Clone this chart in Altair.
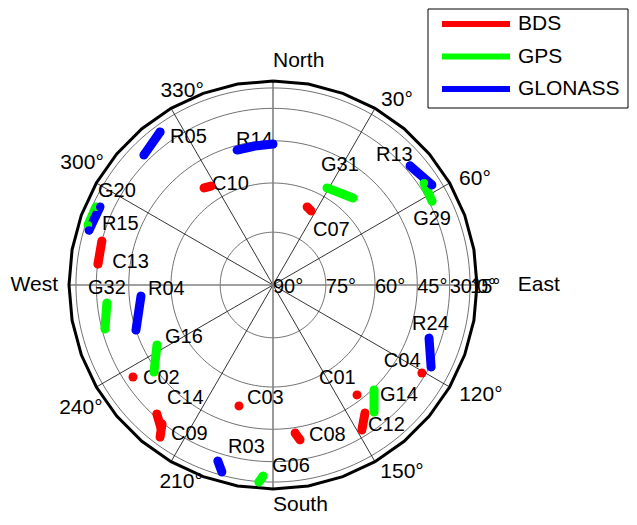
import altair as alt
import numpy as np
import pandas as pd

# ---------------- data ----------------
systems = ["BDS", "GPS", "GLONASS"]
system_colors = ["#ff0000", "#00ff00", "#0000ff"]

sat_names = ["C01", "C02", "C03", "C04", "C07", "C08", "C09", "C10", "C12", "C13", "C14",
             "G06", "G14", "G16", "G20", "G29", "G31", "G32",
             "R03", "R04", "R05", "R13", "R14", "R15", "R24"]
sat_systems = ["BDS"] * 11 + ["GPS"] * 7 + ["GLONASS"] * 7

# azimuth / elevation (deg) of the track points of every satellite
track_az = [[142.6], [236.7], [195.7], [120.6], [23.6, 27.2], [171.5, 170.1], [218.6, 216.6],
            [324.6, 327.9], [144.3, 148.5], [284.4, 276.8], [222.0, 218.1],
            [183.0, 184.1], [136.1, 141.5], [242.7, 233.8], [293.8, 288.0], [56.0, 62.2],
            [29.1, 42.6], [263.8, 255.3],
            [197.4, 195.3], [265.2, 251.8], [323.6, 315.2], [49.0, 57.8], [345.1, 352.6, 360.0],
            [294.3, 286.6], [108.8, 117.4]]
track_el = [[47.3], [34.8], [52.0], [32.0], [65.3, 65.9], [42.8, 39.6], [29.3, 21.8],
            [54.3, 55.1], [39.4, 33.5], [30.0, 30.2], [31.7, 27.1],
            [20.3, 14.5], [44.4, 37.3], [50.2, 43.7], [18.5, 17.6], [26.7, 28.2],
            [57.0, 54.6], [35.0, 31.6],
            [25.3, 18.2], [49.5, 45.0], [21.2, 26.1], [27.1, 23.0], [46.8, 46.6, 46.3],
            [21.5, 19.8], [36.1, 29.2]]

# where each satellite name is written (azimuth / elevation, deg)
label_az = [153.7, 234.4, 193.0, 124.4, 36.0, 166.5, 214.4, 328.9, 145.8, 278.1, 223.2,
            180.3, 135.8, 244.3, 298.2, 64.8, 21.8, 269.1,
            195.5, 268.2, 325.2, 38.4, 345.7, 289.6, 105.7]
label_el = [59.4, 38.4, 55.4, 48.8, 70.5, 40.9, 27.7, 54.7, 34.0, 37.2, 40.6,
            27.5, 41.2, 54.0, 13.2, 40.6, 50.7, 24.9,
            34.5, 52.2, 27.9, 35.6, 42.8, 27.1, 44.9]

elev_rings = [15, 30, 45, 60, 75]
elev_tick_labels = [90, 75, 60, 45, 30, 15, 0]
spoke_az = [30, 60, 120, 150]
az_tick_text = ["30°", "60°", "120°", "150°", "210°", "240°", "300°", "330°"]
az_tick_ang = [33.8, 62.3, 117.9, 145.4, 205.0, 237.4, 302.6, 334.9]
az_tick_rad = [1.092, 1.118, 1.153, 1.114, 1.066, 1.118, 1.111, 1.050]
dir_text = ["North", "East", "South", "West"]
dir_ang = [0, 90, 180, 270]
dir_rad = [1.10, 1.20, 1.08, 1.054]
dir_align = ["left", "left", "left", "right"]

# ---------------- layout ----------------
W, H = 616, 499
CX, CY, RPX = 260, 267, 204
XMIN, XMAX = -CX / RPX, (W - CX) / RPX
YMIN, YMAX = -(H - CY) / RPX, CY / RPX
FONT = "Liberation Sans"

xs = alt.Scale(domain=[XMIN, XMAX], nice=False, zero=False)
ys = alt.Scale(domain=[YMIN, YMAX], nice=False, zero=False)
X = alt.X("x:Q", scale=xs, axis=None)
Y = alt.Y("y:Q", scale=ys, axis=None)


def polar(az, r):
    a = np.radians(np.asarray(az, dtype=float))
    r = np.asarray(r, dtype=float)
    return r * np.sin(a), r * np.cos(a)


# rings
ring_rows = []
for e in elev_rings:
    az = np.arange(0, 361, 2)
    x, y = polar(az, np.cos(np.radians(e)) * np.ones_like(az, dtype=float))
    for i, (xx, yy) in enumerate(zip(x, y)):
        ring_rows.append({"ring": e, "i": i, "x": xx, "y": yy})
rings_df = pd.DataFrame(ring_rows)

outer_az = np.arange(0, 361, 10)
ox, oy = polar(outer_az, np.ones(len(outer_az)))
outer_df = pd.DataFrame({"i": range(len(ox)), "x": ox, "y": oy})

sp_rows = []
for a in spoke_az:
    x1, y1 = polar([a], [1.0])
    sp_rows.append({"x": x1[0], "y": y1[0], "x2": -x1[0], "y2": -y1[0]})
spokes_df = pd.DataFrame(sp_rows)
axes_df = pd.DataFrame({"x": [0.0, -1.0], "y": [-1.0, 0.0], "x2": [0.0, 1.0], "y2": [1.0, 0.0]})

ex, ey = polar([90] * len(elev_tick_labels), np.cos(np.radians(elev_tick_labels)))
elev_lab_df = pd.DataFrame({"x": ex, "y": ey, "t": [f"{v}°" for v in elev_tick_labels]})

ax_, ay_ = polar(az_tick_ang, az_tick_rad)
az_lab_df = pd.DataFrame({"x": ax_, "y": ay_, "t": az_tick_text})

dx_, dy_ = polar(dir_ang, dir_rad)
dir_df = pd.DataFrame({"x": dx_, "y": dy_, "t": dir_text, "al": dir_align})

trk_rows = []
for n, s, azs, els in zip(sat_names, sat_systems, track_az, track_el):
    x, y = polar(azs, np.cos(np.radians(els)))
    for i, (xx, yy) in enumerate(zip(x, y)):
        trk_rows.append({"sat": n, "system": s, "i": i, "x": xx, "y": yy})
trk_df = pd.DataFrame(trk_rows)

lx, ly = polar(label_az, np.cos(np.radians(label_el)))
lab_df = pd.DataFrame({"x": lx, "y": ly, "t": sat_names})

color = alt.Color("system:N", scale=alt.Scale(domain=systems, range=system_colors), legend=None)

rings = alt.Chart(rings_df).mark_line(color="#4d4d4d", strokeWidth=0.8).encode(
    x=X, y=Y, detail="ring:N", order="i:Q")
spokes = alt.Chart(spokes_df).mark_rule(color="#000000", strokeWidth=0.8).encode(
    x=X, y=Y, x2="x2:Q", y2="y2:Q")
axes = alt.Chart(axes_df).mark_rule(color="#808080", strokeWidth=1.6).encode(
    x=X, y=Y, x2="x2:Q", y2="y2:Q")
outer = alt.Chart(outer_df).mark_line(color="#000000", strokeWidth=3).encode(
    x=X, y=Y, order="i:Q")

elev_labels = alt.Chart(elev_lab_df).mark_text(
    align="left", baseline="middle", dy=2, font=FONT, fontSize=20, color="black").encode(
    x=X, y=Y, text="t:N")
az_labels = alt.Chart(az_lab_df).mark_text(
    align="center", baseline="middle", font=FONT, fontSize=21, color="black").encode(
    x=X, y=Y, text="t:N")
dir_left = alt.Chart(dir_df).transform_filter("datum.al == 'left'").mark_text(
    align="left", baseline="middle", font=FONT, fontSize=21, color="black").encode(
    x=X, y=Y, text="t:N")
dir_right = alt.Chart(dir_df).transform_filter("datum.al == 'right'").mark_text(
    align="right", baseline="middle", font=FONT, fontSize=21, color="black").encode(
    x=X, y=Y, text="t:N")

sat_labels = alt.Chart(lab_df).mark_text(
    align="left", baseline="middle", font=FONT, fontSize=20, color="black").encode(
    x=X, y=Y, text="t:N")

tracks = alt.Chart(trk_df).mark_line(strokeWidth=9, strokeCap="round", strokeJoin="round").encode(
    x=X, y=Y, detail="sat:N", order="i:Q", color=color)
dots = alt.Chart(trk_df).mark_circle(size=64, opacity=1).encode(x=X, y=Y, color=color)

# legend (drawn in pixel space)
leg_df = pd.DataFrame({"system": systems, "k": range(len(systems))})
leg_box = alt.Chart(pd.DataFrame({"a": [0]})).mark_rect(
    fill="white", stroke="black", strokeWidth=1).encode(
    x=alt.value(415), x2=alt.value(615), y=alt.value(-9), y2=alt.value(90))
leg_lines = alt.Chart(leg_df).transform_calculate(py="6 + 32.5 * datum.k").mark_rule(
    strokeWidth=6).encode(
    x=alt.value(429), x2=alt.value(497), y=alt.Y("py:Q", scale=None, axis=None), color=color)
leg_text = alt.Chart(leg_df).transform_calculate(py="6 + 32.5 * datum.k").mark_text(
    align="left", baseline="middle", font=FONT, fontSize=21, color="black").encode(
    x=alt.value(505), y=alt.Y("py:Q", scale=None, axis=None), text="system:N")

chart = alt.layer(
    rings, spokes, axes, outer, elev_labels, az_labels, dir_left, dir_right,
    sat_labels, tracks, dots, leg_box, leg_lines, leg_text
).properties(
    width=W, height=H,
    padding={"left": 5, "top": 10, "right": 0, "bottom": 0},
    autosize=alt.AutoSizeParams(type="none"),
).configure_view(stroke=None)

chart.save("out.html", embed_options={"renderer": "svg", "actions": False})
